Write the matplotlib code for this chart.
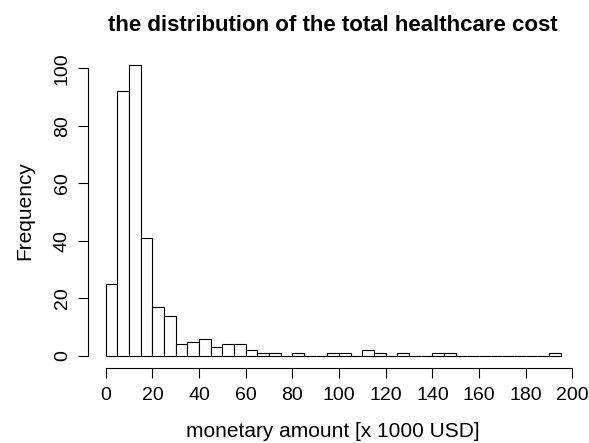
import numpy as np
import matplotlib.pyplot as plt

plt.rcParams['font.family'] = ['Liberation Sans', 'DejaVu Sans']

# counts per 5k-USD bin, 0 to 195
counts = [25, 92, 101, 41, 17, 14, 4, 5, 6, 3, 4, 4, 2, 1, 1, 0, 1, 0, 0, 1,
          1, 0, 2, 1, 0, 1, 0, 0, 1, 1, 0, 0, 0, 0, 0, 0, 0, 0, 1]
bin_width = 5
x_ticks = [0, 20, 40, 60, 80, 100, 120, 140, 160, 180, 200]
y_ticks = [0, 20, 40, 60, 80, 100]

edges = np.arange(len(counts)) * bin_width

fig = plt.figure(figsize=(5.89, 4.43), dpi=100)
ax = fig.add_axes([0.1486, 0.1702, 0.8344, 0.7086])

ax.bar(edges, counts, width=bin_width, align='edge', color='white',
       edgecolor='black', linewidth=0.8)

ax.set_xlim(-7.8, 202.8)
ax.set_ylim(-4.04, 105.04)

for s in ['top', 'right']:
    ax.spines[s].set_visible(False)
ax.spines['left'].set_bounds(0, 100)
ax.spines['bottom'].set_bounds(0, 200)
ax.spines['left'].set_linewidth(0.8)
ax.spines['bottom'].set_linewidth(0.8)

ax.set_xticks(x_ticks)
ax.set_yticks(y_ticks)
ax.tick_params(length=7, width=0.8, labelsize=14)
ax.tick_params(axis='x', pad=7)
ax.tick_params(axis='y', pad=5)
for lab in ax.get_yticklabels():
    lab.set_rotation(90)
    lab.set_va('center')

ax.set_xlabel('monetary amount [x 1000 USD]', fontsize=15)
ax.set_ylabel('Frequency', fontsize=15)
ax.xaxis.set_label_coords(0.5, -0.172)
ax.yaxis.set_label_coords(-0.109, 0.5)
ax.set_title('the distribution of the total healthcare cost',
             fontsize=16, fontweight='bold', pad=16.3)

fig.savefig('out.png', dpi=100)
